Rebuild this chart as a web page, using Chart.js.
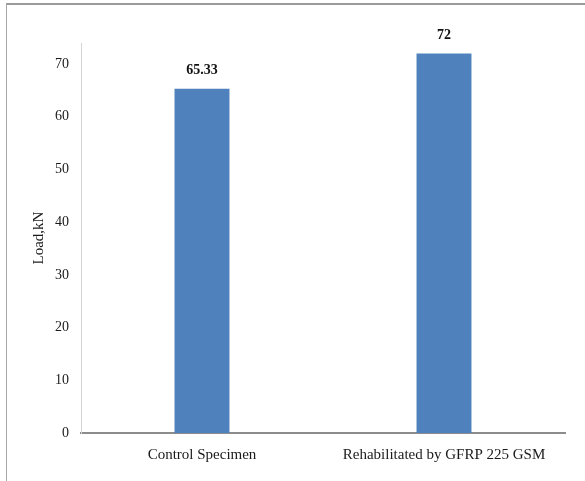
<!DOCTYPE html>
<html>
<head>
<meta charset="utf-8">
<script src="https://cdn.jsdelivr.net/npm/chart.js@4/dist/chart.umd.min.js"></script>
<style>
  html, body { margin: 0; padding: 0; background: #fff; }
  #wrap { position: relative; width: 585px; height: 481px; overflow: hidden; }
  #frame {
    position: absolute; left: 6px; top: 3px; width: 700px; height: 600px;
    border-top: 2px solid #9a9a9a; border-left: 1px solid #a8a8a8;
  }
  canvas { position: absolute; left: 0; top: 0; }
</style>
</head>
<body>
<div id="wrap">
  <div id="frame"></div>
  <canvas id="chart" width="585" height="481"></canvas>
</div>
<script>
const categories = ['Control Specimen', 'Rehabilitated by GFRP 225 GSM']
const loadValues = [65.33, 72]
const valueLabels = ['65.33', '72']

const serif = '"Liberation Serif", "Times New Roman", serif'

// small plugin to print the value above each bar
const barLabels = {
  id: 'barLabels',
  afterDatasetsDraw(chart) {
    const ctx = chart.ctx
    const meta = chart.getDatasetMeta(0)
    ctx.save()
    ctx.font = 'bold 14px ' + serif
    ctx.fillStyle = '#111'
    ctx.textAlign = 'center'
    ctx.textBaseline = 'middle'
    meta.data.forEach((bar, i) => {
      ctx.fillText(valueLabels[i], bar.x, bar.y - 18)
    })
    ctx.restore()
  }
}

document.addEventListener('DOMContentLoaded', () => {
  new Chart(document.getElementById('chart').getContext('2d'), {
    type: 'bar',
    data: {
      labels: categories,
      datasets: [{
        label: 'Load',
        data: loadValues,
        backgroundColor: '#4f81bd',
        barPercentage: 0.227,
        categoryPercentage: 1
      }]
    },
    options: {
      responsive: false,
      animation: false,
      layout: { padding: { left: 0, right: 20, top: 43, bottom: 0 } },
      plugins: {
        legend: { display: false },
        tooltip: { enabled: false }
      },
      scales: {
        x: {
          grid: { display: false, drawTicks: false },
          border: { display: true, color: '#8c8c8c', width: 2 },
          ticks: {
            color: '#1a1a1a',
            font: { family: serif, size: 15 },
            padding: 13,
            maxRotation: 0
          },
          afterFit: (scale) => { scale.height = 48 }
        },
        y: {
          min: 0,
          max: 74,
          grid: { display: false, drawTicks: false },
          border: { display: true, color: '#d4d4d4', width: 1 },
          ticks: {
            stepSize: 10,
            includeBounds: false,
            color: '#1a1a1a',
            font: { family: serif, size: 14 },
            padding: 12
          },
          title: {
            display: true,
            text: 'Load,kN',
            color: '#1a1a1a',
            font: { family: serif, size: 15 },
            padding: { top: 30, bottom: 0 }
          },
          afterFit: (scale) => { scale.width = 81 }
        }
      }
    },
    plugins: [barLabels]
  })
})
</script>
</body>
</html>
